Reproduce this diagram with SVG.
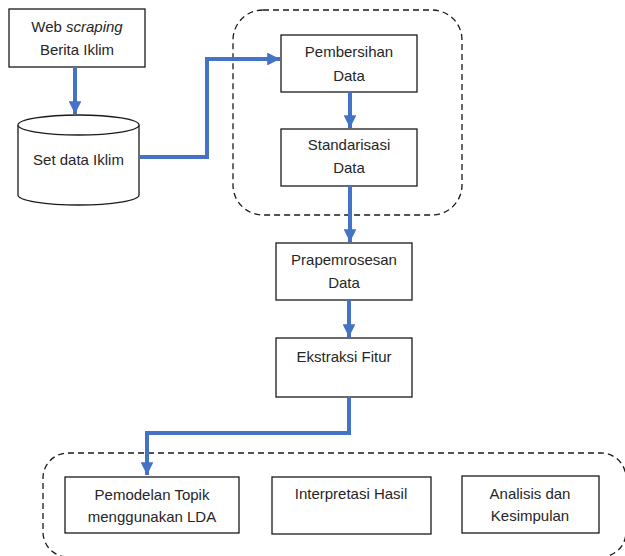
<svg xmlns="http://www.w3.org/2000/svg" width="625" height="556" viewBox="0 0 625 556">
<style>
.box{fill:#fff;stroke:#1a1a1a;stroke-width:1.3}
.grp{fill:none;stroke:#1a1a1a;stroke-width:1.3;stroke-dasharray:6 4}
.t{font-family:"Liberation Sans",Arial,sans-serif;font-size:15px;fill:#262626;text-anchor:middle}
.c{fill:none;stroke:#4472C4;stroke-width:4}
</style>
<defs>
<marker id="ah" viewBox="0 0 10 10" refX="10" refY="5" markerWidth="3.2" markerHeight="3.2" markerUnits="strokeWidth" orient="auto">
<path d="M0,0 L10,5 L0,10 Z" fill="#4472C4"/>
</marker>
</defs>
<rect class="grp" x="233" y="10" width="229" height="205" rx="30"/>
<rect class="grp" x="43" y="453" width="583" height="104" rx="25"/>
<g id="webscraping">
<rect class="box" x="9" y="9" width="136" height="58"/>
<text class="t" x="77" y="32">Web <tspan font-style="italic">scraping</tspan></text>
<text class="t" x="77" y="55">Berita Iklim</text>
</g>
<g id="setdata">
<path class="box" d="M18,125 L18,195 A60.5,10 0 0 0 139,195 L139,125"/>
<ellipse class="box" cx="78.5" cy="125" rx="60.5" ry="10"/>
<text class="t" x="78.5" y="165">Set data Iklim</text>
</g>
<g id="pembersihan">
<rect class="box" x="281" y="35" width="136" height="57"/>
<text class="t" x="349" y="57">Pembersihan</text>
<text class="t" x="349" y="81">Data</text>
</g>
<g id="standarisasi">
<rect class="box" x="281" y="129" width="136" height="57"/>
<text class="t" x="349" y="150">Standarisasi</text>
<text class="t" x="349" y="173">Data</text>
</g>
<g id="prapemrosesan">
<rect class="box" x="276" y="243" width="136" height="57"/>
<text class="t" x="344" y="265">Prapemrosesan</text>
<text class="t" x="344" y="288">Data</text>
</g>
<g id="ekstraksi">
<rect class="box" x="276" y="338" width="136" height="59"/>
<text class="t" x="344" y="362">Ekstraksi Fitur</text>
</g>
<g id="pemodelan">
<rect class="box" x="65" y="477" width="174" height="56"/>
<text class="t" x="152" y="500">Pemodelan Topik</text>
<text class="t" x="152" y="522">menggunakan LDA</text>
</g>
<g id="interpretasi">
<rect class="box" x="272" y="477" width="159" height="57"/>
<text class="t" x="351" y="499">Interpretasi Hasil</text>
</g>
<g id="analisis">
<rect class="box" x="462" y="476" width="137" height="57"/>
<text class="t" x="530" y="499">Analisis dan</text>
<text class="t" x="530" y="521">Kesimpulan</text>
</g>
<g id="connectors">
<path class="c" d="M75,67 L75,114" marker-end="url(#ah)"/>
<path class="c" d="M139,157 L207,157 L207,59 L280,59" marker-end="url(#ah)"/>
<path class="c" d="M350,92 L350,128" marker-end="url(#ah)"/>
<path class="c" d="M350,186 L350,242" marker-end="url(#ah)"/>
<path class="c" d="M349,300 L349,337" marker-end="url(#ah)"/>
<path class="c" d="M349,397 L349,433 L147,433 L147,475" marker-end="url(#ah)"/>
</g>
</svg>
